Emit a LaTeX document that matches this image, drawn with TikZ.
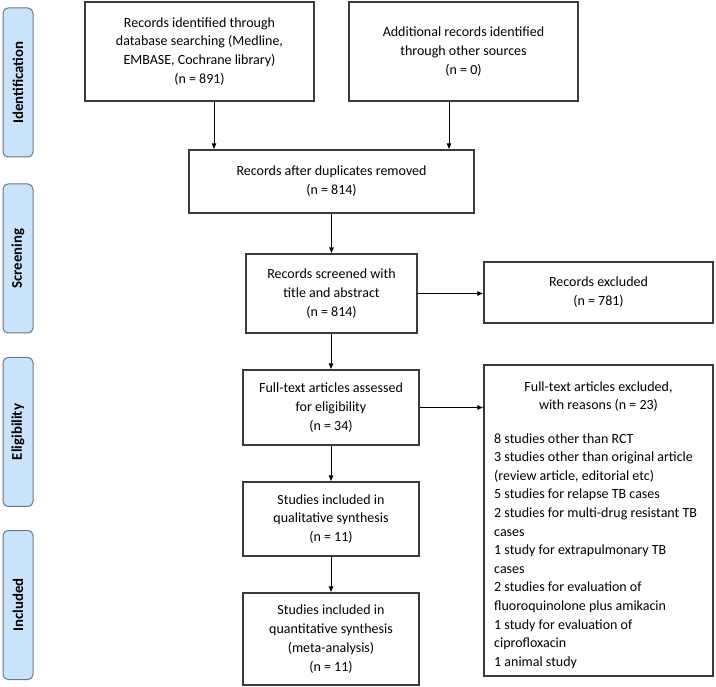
\documentclass[tikz,border=0pt]{standalone}
\usepackage{fontspec}
\setmainfont{Carlito}
\usetikzlibrary{arrows.meta}
\definecolor{lblfill}{HTML}{C9E3FB}
\definecolor{lbldraw}{HTML}{6A7786}
\definecolor{boxdraw}{HTML}{3A3A3A}
\tikzset{
  box/.style={draw=boxdraw, line width=1.1pt, align=center, inner sep=0pt,
    font=\fontsize{14}{18.8}\selectfont},
  phase/.style={draw=lbldraw, fill=lblfill, line width=1pt, rounded corners=5pt,
    minimum width=30pt, minimum height=149pt, inner sep=0pt},
  phasetxt/.style={rotate=90, font=\fontsize{14.8}{16}\selectfont\bfseries},
  arr/.style={draw=black, line width=0.9pt, -{Latex[length=6pt,width=5pt]}},
  txt/.style={font=\fontsize{14}{18.6}\selectfont, inner sep=0pt}
}
\begin{document}
\begin{tikzpicture}[x=1pt,y=-1pt]
\useasboundingbox (0,0) rectangle (716,687);
% phase labels
\node[phase] (p1) at (18,82.5) {};
\node[phasetxt] (p1t) at (p1) {Identification};
\node[phase] (p2) at (18,258.5) {};
\node[phasetxt] (p2t) at (p2) {Screening};
\node[phase] (p3) at (18,432) {};
\node[phasetxt] (p3t) at (p3) {Eligibility};
\node[phase] (p4) at (18,605) {};
\node[phasetxt] (p4t) at (p4) {Included};
% boxes
\node[box, minimum width=229pt, minimum height=99pt] (b1) at (199.5,51.5)
  {Records identified through\\database searching (Medline,\\EMBASE, Cochrane library)\\(n = 891)};
\node[box, minimum width=229pt, minimum height=99pt] (b2) at (463.5,51.5)
  {Additional records identified\\through other sources\\(n = 0)};
\node[box, minimum width=285pt, minimum height=63pt] (b3) at (331.5,181.5)
  {Records after duplicates removed\\(n = 814)};
\node[box, minimum width=171pt, minimum height=79pt] (b4) at (331.5,293.5)
  {Records screened with\\title and abstract\\(n = 814)};
\node[box, minimum width=229pt, minimum height=61pt] (b5) at (598.5,292.5)
  {Records excluded\\(n = 781)};
\node[box, minimum width=176pt, minimum height=75pt] (b6) at (331,407.5)
  {Full-text articles assessed\\for eligibility\\(n = 34)};
\node[box, minimum width=229pt, minimum height=311pt] (b7) at (598.5,520.5) {};
\node[txt, align=center] (b7h) at (598.5,396.5)
  {Full-text articles excluded,\\with reasons (n = 23)};
\node[txt, align=left, anchor=west] (b7l) at (494,551)
  {8 studies other than RCT\\
   3 studies other than original article\\
   (review article, editorial etc)\\
   5 studies for relapse TB cases\\
   2 studies for multi-drug resistant TB\\
   cases\\
   1 study for extrapulmonary TB\\
   cases\\
   2 studies for evaluation of\\
   fluoroquinolone plus amikacin\\
   1 study for evaluation of\\
   ciprofloxacin\\
   1 animal study};
\node[box, minimum width=176pt, minimum height=74pt] (b8) at (331,519)
  {Studies included in\\qualitative synthesis\\(n = 11)};
\node[box, minimum width=176pt, minimum height=92pt] (b9) at (331,639)
  {Studies included in\\quantitative synthesis\\(meta-analysis)\\(n = 11)};
% arrows
\coordinate (a1x) at (214,0);
\coordinate (a2x) at (449,0);
\draw[arr] (b1.south -| a1x) -- (b3.north -| a1x);
\draw[arr] (b2.south -| a2x) -- (b3.north -| a2x);
\draw[arr] (b3.south) -- (b4.north);
\draw[arr] (b4.east) -- (b5.west |- b4.east);
\draw[arr] (b4.south -| b6.north) -- (b6.north);
\draw[arr] (b6.east) -- (b7.west |- b6.east);
\draw[arr] (b6.south) -- (b8.north);
\draw[arr] (b8.south) -- (b9.north);
\end{tikzpicture}
\end{document}
